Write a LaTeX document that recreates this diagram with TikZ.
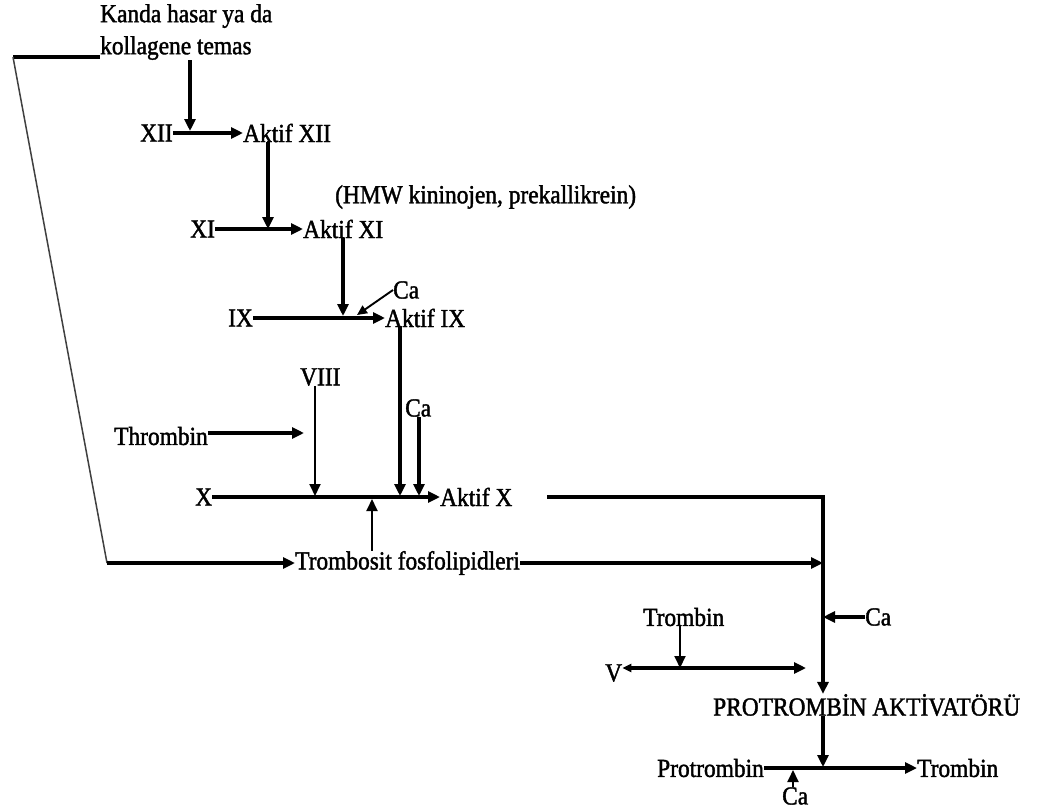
\documentclass[tikz,border=0pt]{standalone}
\usepackage{fontspec}
\setmainfont{Liberation Serif}[FakeStretch=0.9,FakeBold=1.5]
\usetikzlibrary{arrows.meta}
\begin{document}
\begin{tikzpicture}[x=1pt,y=-1pt,
 lbl/.style={inner sep=0pt, anchor=west, font=\fontsize{26}{32}\selectfont},
 thk/.style={line width=3.3pt},
 thn/.style={line width=1.9pt},
 arr/.style={-{Triangle[length=12pt,width=11pt]}},
 sarr/.style={-{Triangle[length=10pt,width=9pt]}},
 darr/.style={{Triangle[length=9pt,width=8pt]}-{Triangle[length=12pt,width=11pt]}},
]
\useasboundingbox[fill=white] (0,0) rectangle (1057,809);

% texts
\node[lbl, align=left, anchor=north west] (kanda) at (100,4) {Kanda hasar ya da\\kollagene temas};
\node[lbl] (xii) at (140,133) {XII};
\node[lbl] (axii) at (243,133) {Aktif XII};
\node[lbl] (hmw) at (335,197) {(HMW kininojen, prekallikrein)};
\node[lbl] (xi) at (190,229) {XI};
\node[lbl] (axi) at (303,229) {Aktif XI};
\node[lbl] (ca1) at (393,290) {Ca};
\node[lbl] (ix) at (228,318) {IX};
\node[lbl] (aix) at (385,318) {Aktif IX};
\node[lbl] (viii) at (300,377) {VIII};
\node[lbl] (ca2) at (405,408) {Ca};
\node[lbl] (thr) at (114,436) {Thrombin};
\node[lbl] (x) at (195,497) {X};
\node[lbl] (ax) at (440,497) {Aktif X};
\node[lbl] (tf) at (295,563) {Trombosit fosfolipidleri};
\node[lbl] (tromb1) at (643,617) {Trombin};
\node[lbl] (ca3) at (865,617) {Ca};
\node[lbl] (v) at (605,673) {V};
\node[lbl] (pa) at (713,705) {PROTROMBİN AKTİVATÖRÜ};
\node[lbl] (pro) at (657,768) {Protrombin};
\node[lbl] (tromb2) at (917,768) {Trombin};
\node[lbl] (ca4) at (782,796) {Ca};

% coordinates
\coordinate (tl) at (13,57);
\coordinate (bl) at (107,563);
\coordinate (r12) at (190,131);
\coordinate (r11) at (268,229);
\coordinate (r9) at (343,316);
\coordinate (c9) at (357,315);
\coordinate (r10a) at (400,496);
\coordinate (r10b) at (419,496);
\coordinate (r10c) at (315,496);
\coordinate (r10d) at (372,499);
\coordinate (thrEnd) at (304,433);
\coordinate (axs) at (547,497);
\coordinate (jn) at (823,497);
\coordinate (vr) at (806,668);
\coordinate (r5) at (680,668);
\coordinate (rp) at (823,767);
\coordinate (rp2) at (793,770);

% connectors
\draw[thk] (tl) -- (tl -| kanda.west);
\draw[line width=1.5pt, black!75] (tl) -- (bl);
\draw[thk,arr] (r12 |- kanda.south) -- (r12);
\draw[thk,arr] (bl) -- (tf.west);
\draw[thk,arr] (xii.east) -- (axii.west);
\draw[thk,arr] (r11 |- axii.south) -- (r11);
\draw[thk,arr] (xi.east) -- (axi.west);
\draw[thk,arr] (r9 |- axi.south) -- (r9);
\draw[thk,arr] (ix.east) -- (aix.west);
\draw[thn,sarr] (ca1.west) -- (c9);
\draw[thk,arr] (r10a |- aix.south) -- (r10a);
\draw[thk,arr] (r10b |- ca2.south) -- (r10b);
\draw[thn,arr] (r10c |- viii.south) -- (r10c);
\draw[thk,arr] (thr.east |- thrEnd) -- (thrEnd);
\draw[thk,arr] (x.east) -- (ax.west);
\draw[thn,arr] (r10d |- tf.north) -- (r10d);
\draw[thk,arr] (axs) -- (jn) -- (jn |- pa.north);
\draw[thk,arr] (tf.east) -- (tf.east -| jn);
\draw[thk,arr] (ca3.west) -- (ca3.west -| jn);
\draw[thk,darr] (v.east |- vr) -- (vr);
\draw[thn,arr] (r5 |- tromb1.south) -- (r5);
\draw[thk,arr] (pa.south -| jn) -- (rp);
\draw[thk,arr] (pro.east) -- (tromb2.west);
\draw[thn,arr] (rp2 |- ca4.north) -- (rp2);
\end{tikzpicture}
\end{document}
